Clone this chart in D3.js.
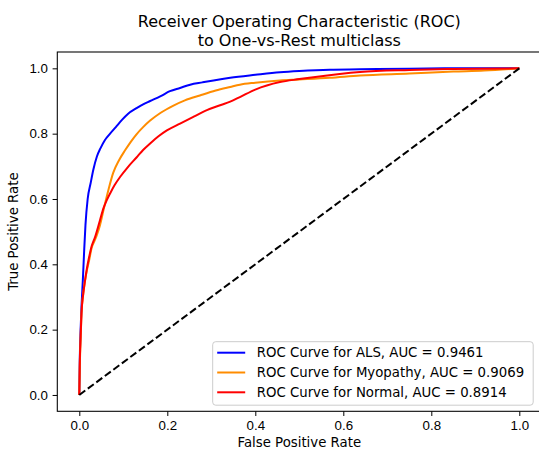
<!DOCTYPE html>
<html>
<head>
<meta charset="utf-8">
<script src="https://cdn.jsdelivr.net/npm/d3@7"></script>
<style>
    body { margin: 0; background: #fff; }
    svg { font-family: 'DejaVu Sans', sans-serif; }
    .tick text { font-size: 13.3px; fill: #000; }
    .tick line { stroke: #000; }
    .domain { display: none; }
</style>
</head>
<body>
<svg id="chart"></svg>
<script>
const TITLE = ['Receiver Operating Characteristic (ROC)', 'to One-vs-Rest multiclass'];
const X_LABEL = 'False Positive Rate';
const Y_LABEL = 'True Positive Rate';
const TICKS = [0, 0.2, 0.4, 0.6, 0.8, 1.0];

const CLASSES = ['ALS', 'Myopathy', 'Normal'];
const AUCS = [0.9461, 0.9069, 0.8914];
const COLORS = ['blue', 'darkorange', 'red'];

const ALS_FPR = [0, 0.001, 0.003, 0.005, 0.008, 0.011, 0.014, 0.019, 0.026, 0.032, 0.040, 0.048, 0.058, 0.070, 0.083, 0.097, 0.111, 0.130, 0.145, 0.161, 0.185, 0.206, 0.229, 0.252, 0.280, 0.305, 0.343, 0.400, 0.456, 0.500, 0.569, 0.638, 0.750, 0.850, 1.0];
const ALS_TPR = [0, 0.10, 0.20, 0.27, 0.35, 0.44, 0.52, 0.60, 0.65, 0.69, 0.73, 0.755, 0.78, 0.80, 0.82, 0.842, 0.861, 0.878, 0.890, 0.900, 0.915, 0.930, 0.940, 0.950, 0.957, 0.963, 0.971, 0.980, 0.988, 0.992, 0.996, 0.997, 0.999, 1.0, 1.0];

const MYO_FPR = [0, 0.001, 0.003, 0.005, 0.009, 0.013, 0.017, 0.022, 0.028, 0.034, 0.040, 0.047, 0.055, 0.066, 0.077, 0.090, 0.104, 0.117, 0.130, 0.145, 0.161, 0.185, 0.214, 0.240, 0.274, 0.310, 0.343, 0.365, 0.400, 0.456, 0.500, 0.569, 0.638, 0.750, 0.850, 0.920, 1.0];
const MYO_TPR = [0, 0.08, 0.17, 0.25, 0.31, 0.35, 0.38, 0.41, 0.45, 0.47, 0.49, 0.52, 0.566, 0.627, 0.680, 0.718, 0.749, 0.775, 0.798, 0.820, 0.840, 0.864, 0.886, 0.902, 0.917, 0.932, 0.943, 0.950, 0.956, 0.963, 0.966, 0.971, 0.978, 0.984, 0.990, 0.993, 1.0];

const NOR_FPR = [0, 0.001, 0.003, 0.005, 0.009, 0.013, 0.017, 0.022, 0.028, 0.036, 0.047, 0.055, 0.062, 0.070, 0.080, 0.093, 0.110, 0.130, 0.145, 0.161, 0.180, 0.199, 0.229, 0.260, 0.290, 0.320, 0.343, 0.365, 0.400, 0.456, 0.500, 0.532, 0.638, 0.750, 0.850, 1.0];
const NOR_TPR = [0, 0.09, 0.18, 0.25, 0.31, 0.35, 0.385, 0.42, 0.455, 0.484, 0.535, 0.572, 0.595, 0.617, 0.642, 0.668, 0.697, 0.727, 0.750, 0.770, 0.792, 0.810, 0.831, 0.852, 0.872, 0.887, 0.898, 0.912, 0.935, 0.958, 0.967, 0.973, 0.989, 0.995, 0.998, 1.0];

const CHANCE = [0, 1];

const outerWidth = 539;
const outerHeight = 450;
const margin = { top: 52, left: 57.3, bottom: 38.7, right: -2.3 };
const innerWidth = outerWidth - margin.left - margin.right;
const innerHeight = outerHeight - margin.top - margin.bottom;

const series = [
    { fpr: ALS_FPR, tpr: ALS_TPR },
    { fpr: MYO_FPR, tpr: MYO_TPR },
    { fpr: NOR_FPR, tpr: NOR_TPR }
].map((s, i) => ({
    name: CLASSES[i],
    auc: AUCS[i],
    color: COLORS[i],
    points: s.fpr.map((x, j) => [x, s.tpr[j]])
}));

const xScale = d3.scaleLinear().domain([-0.05, 1.05]).range([0, innerWidth]);
const yScale = d3.scaleLinear().domain([-0.05, 1.05]).range([innerHeight, 0]);

const svg = d3.select('#chart')
    .attr('width', outerWidth)
    .attr('height', outerHeight);

const g = svg.append('g')
    .attr('transform', `translate(${margin.left},${margin.top})`);

// title
svg.append('text')
    .attr('text-anchor', 'middle')
    .style('font-size', '16px')
    .selectAll('tspan')
    .data(TITLE)
    .join('tspan')
        .attr('x', margin.left + innerWidth / 2)
        .attr('y', (d, i) => 27 + i * 18.5)
        .text(d => d);

const xAxis = d3.axisBottom(xScale)
    .tickValues(TICKS)
    .tickFormat(d3.format('.1f'))
    .tickSizeOuter(0)
    .tickSize(4.7)
    .tickPadding(4.7);

g.append('g')
    .attr('transform', `translate(0,${innerHeight})`)
    .call(xAxis)
    .selectAll('text')
        .attr('dy', '0.72em');

const yAxis = d3.axisLeft(yScale)
    .tickValues(TICKS)
    .tickFormat(d3.format('.1f'))
    .tickSizeOuter(0)
    .tickSize(4.7)
    .tickPadding(4.7);

g.append('g')
    .call(yAxis);

const line = d3.line()
    .x(d => xScale(d[0]))
    .y(d => yScale(d[1]))
    .curve(d3.curveMonotoneX);

g.selectAll('.roc')
    .data(series)
    .join('path')
        .classed('roc', true)
        .attr('d', d => line(d.points))
        .attr('fill', 'none')
        .attr('stroke', d => d.color)
        .attr('stroke-width', 2)
        .attr('stroke-linejoin', 'round');

g.append('path')
    .attr('d', d3.line().x(d => xScale(d)).y(d => yScale(d))(CHANCE))
    .attr('fill', 'none')
    .attr('stroke', '#000')
    .attr('stroke-width', 2)
    .attr('stroke-dasharray', '7.4,3.2');

// frame
g.append('rect')
    .attr('width', innerWidth)
    .attr('height', innerHeight)
    .attr('fill', 'none')
    .attr('stroke', '#000')
    .attr('stroke-width', 1.07);

// axis labels
svg.append('text')
    .attr('x', margin.left + innerWidth / 2)
    .attr('y', 447)
    .attr('text-anchor', 'middle')
    .style('font-size', '13.3px')
    .text(X_LABEL);

svg.append('text')
    .attr('transform', `translate(18,${margin.top + innerHeight / 2}) rotate(-90)`)
    .attr('text-anchor', 'middle')
    .style('font-size', '13.3px')
    .text(Y_LABEL);

// legend
const legend = svg.append('g')
    .attr('transform', 'translate(212.7,341.7)');

legend.append('rect')
    .attr('width', 320.5)
    .attr('height', 63.5)
    .attr('rx', 3)
    .attr('fill', '#fff')
    .attr('fill-opacity', 0.8)
    .attr('stroke', '#ccc')
    .attr('stroke-width', 1);

const items = legend.selectAll('.item')
    .data(series)
    .join('g')
        .classed('item', true)
        .attr('transform', (d, i) => `translate(0,${11 + i * 19.8})`);

items.append('line')
    .attr('x1', 4.5)
    .attr('x2', 32.5)
    .attr('stroke', d => d.color)
    .attr('stroke-width', 2);

items.append('text')
    .attr('x', 44)
    .attr('dy', '0.35em')
    .style('font-size', '13.3px')
    .text(d => `ROC Curve for ${d.name}, AUC = ${d.auc.toFixed(4)}`);
</script>
</body>
</html>
